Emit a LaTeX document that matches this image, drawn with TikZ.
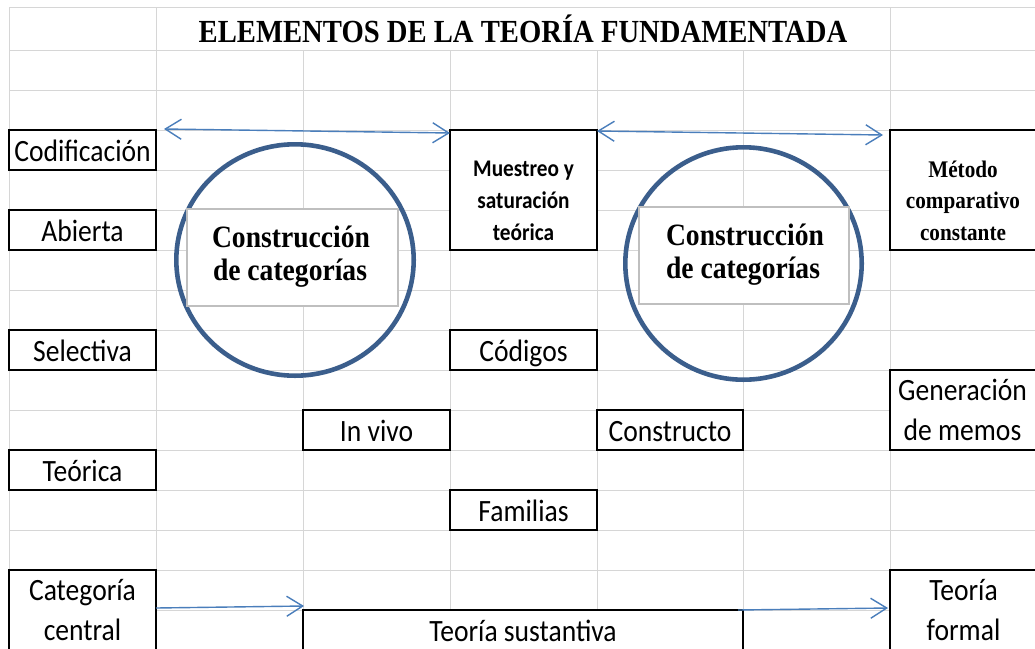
\documentclass[tikz,border=0pt]{standalone}
\usepackage{fontspec}
\newfontfamily\calf{Carlito}[FakeStretch=0.89]
\newfontfamily\timesf{Liberation Serif}[FakeStretch=0.89]
\usetikzlibrary{arrows.meta,shapes.geometric}
\definecolor{gridc}{HTML}{D6D6D6}
\definecolor{circc}{HTML}{3B5E8C}
\definecolor{arrc}{HTML}{4A7EBB}
\definecolor{innerc}{HTML}{BFBFBF}
\begin{document}
\begin{tikzpicture}[x=1pt,y=-1pt,
  gridline/.style={draw=gridc,line width=1pt},
  cellbox/.style={draw=black,line width=1.8pt,fill=white,rectangle,inner sep=0pt,outer sep=0pt,
    minimum width=147pt,minimum height=40pt,text height=31pt,text depth=9pt,
    font=\calf\fontsize{31}{38}\selectfont},
  txt/.style={anchor=base,inner sep=0pt,font=\calf\fontsize{31}{38}\selectfont},
  muetxt/.style={anchor=base,inner sep=0pt,font=\calf\bfseries\fontsize{23.9}{30}\selectfont},
  mettxt/.style={anchor=base,inner sep=0pt,font=\timesf\bfseries\fontsize{23.8}{30}\selectfont},
  conbox/.style={draw=innerc,line width=1.2pt,fill=white,rectangle,inner sep=0pt,
    minimum width=211pt,minimum height=97pt},
  contxt/.style={anchor=base,inner sep=0pt,font=\timesf\bfseries\fontsize{31}{38}\selectfont},
  ring/.style={ellipse,draw=circc,line width=4.6pt,inner sep=0pt},
  barb/.style={arrc,line width=1.4pt},
  tipb/.tip={Straight Barb[length=16pt,width=20pt]}
]
\useasboundingbox (0,0) rectangle (1035,648);
\fill[white] (0,0) rectangle (1035,648);
% grid
\draw[gridline] (9,7) -- (1035,7);
\foreach \yy in {50,90,...,610} \draw[gridline] (9,\yy) -- (1035,\yy);
\foreach \xx in {9,156,890} \draw[gridline] (\xx,7) -- (\xx,648);
\foreach \xx in {303,450,597,743} \draw[gridline] (\xx,50) -- (\xx,648);
% title
\node[anchor=base,inner sep=0pt,font=\timesf\bfseries\fontsize{32.2}{38}\selectfont] (title) at (523,42) {ELEMENTOS DE LA TEORÍA FUNDAMENTADA};
% circles
\node[ring,minimum width=237.4pt,minimum height=231.4pt] (c1) at (295,260) {};
\node[ring,minimum width=236.4pt,minimum height=232.4pt] (c2) at (743.5,263.5) {};
\node[conbox] (k1) at (292.5,257.5) {};
\node[conbox,minimum width=210pt] (k2) at (744,255.5) {};
\node[contxt] (k1a) at (291,247) {Construcción};
\node[contxt] (k1b) at (290,280) {de categorías};
\node[contxt] (k2a) at (745,245) {Construcción};
\node[contxt] (k2b) at (743,278) {de categorías};
% boxes
\node[cellbox] (cod) at (82.5,150) {Codificación};
\node[cellbox] (abi) at (82.5,230) {Abierta};
\node[cellbox] (sel) at (82.5,350) {Selectiva};
\node[cellbox] (teo) at (82.5,470) {Teórica};
\node[cellbox,minimum height=80pt,text height=0pt,text depth=0pt] (cat) at (82.5,610) {};
\node[txt] (cat1) at (82.5,600) {Categoría};
\node[txt] (cat2) at (82.5,640) {central};
\node[cellbox] (viv) at (376.5,430) {In vivo};
\node[cellbox,minimum height=120pt,text height=0pt,text depth=0pt] (mue) at (523.5,190) {};
\node[muetxt] (mue1) at (523.5,176) {Muestreo y};
\node[muetxt] (mue2) at (523.5,208) {saturación};
\node[muetxt] (mue3) at (523.5,240) {teórica};
\node[cellbox] (cdg) at (523.5,350) {Códigos};
\node[cellbox] (fam) at (523.5,510) {Familias};
\node[cellbox,minimum width=146pt] (con) at (670,430) {Constructo};
\node[cellbox,minimum height=120pt,text height=0pt,text depth=0pt] (met) at (963.5,190) {};
\node[mettxt] (met1) at (963,177) {Método};
\node[mettxt] (met2) at (963,208) {comparativo};
\node[mettxt] (met3) at (963,240) {constante};
\node[cellbox,minimum height=80pt,text height=0pt,text depth=0pt] (gen) at (963.5,410) {};
\node[txt] (gen1) at (962.5,400) {Generación};
\node[txt] (gen2) at (962.5,440) {de memos};
\node[cellbox,minimum height=80pt,text height=0pt,text depth=0pt] (frm) at (963.5,610) {};
\node[txt] (frm1) at (963.5,600) {Teoría};
\node[txt] (frm2) at (963.5,640) {formal};
\node[cellbox,minimum width=440pt] (sus) at (523,630) {Teoría sustantiva};
% arrows
\draw[barb,{tipb}-{tipb}] ([xshift=8pt,yshift=1pt]cod.north east) -- ([yshift=-3pt]mue.north west);
\draw[barb,{tipb}-{tipb}] ([yshift=-1pt]mue.north east) -- ([xshift=-7pt,yshift=-5pt]met.north west);
\draw[barb,-{tipb}] ([yshift=2pt]cat.east) -- ([xshift=1pt,yshift=4pt]sus.north west);
\draw[barb,-{tipb}] ([xshift=-5pt]sus.north east) -- ([xshift=-2pt,yshift=2pt]frm.west);
\end{tikzpicture}
\end{document}
